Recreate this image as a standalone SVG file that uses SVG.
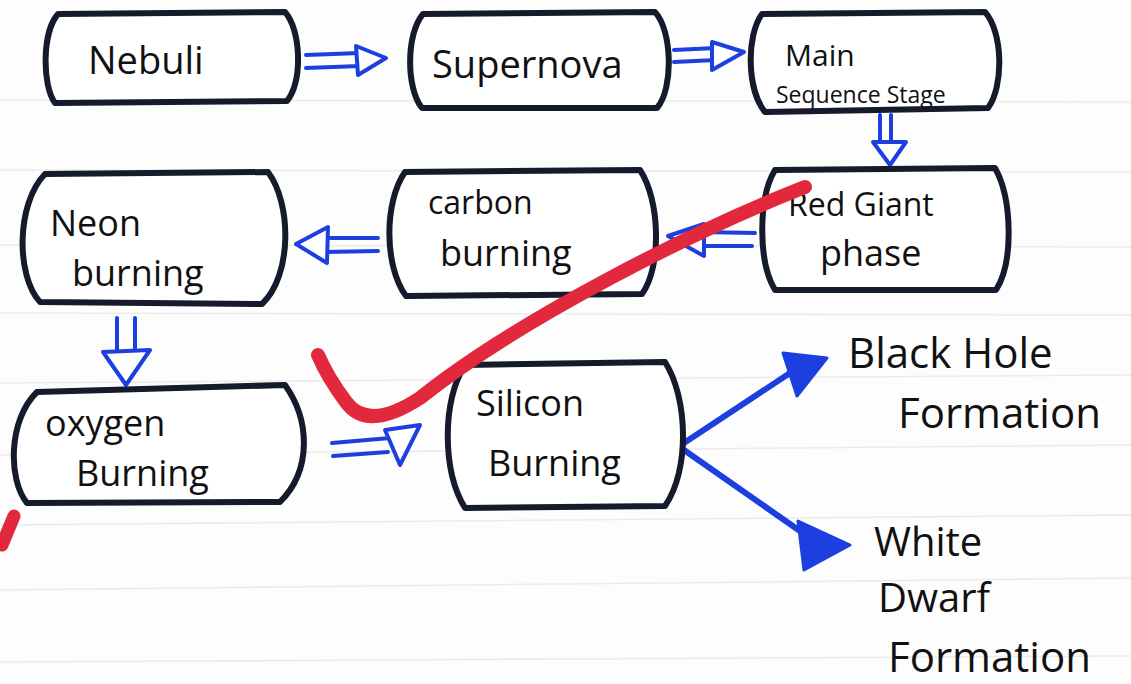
<svg xmlns="http://www.w3.org/2000/svg" width="1131" height="684" viewBox="0 0 1131 684">
<defs>
<style>
.box{fill:#fff;stroke:#151a2c;stroke-width:6;stroke-linejoin:round}
.t{font-family:"Open Sans","DejaVu Sans",sans-serif;fill:#111;font-size:36px}
.c{fill:none;stroke:#1e3fe0;stroke-width:4;stroke-linecap:round;stroke-linejoin:round}
.h{fill:#fff;stroke:#1e3fe0;stroke-width:4;stroke-linejoin:round}
.f{fill:#1e3fe0;stroke:#1e3fe0;stroke-width:3;stroke-linejoin:round}
.rule{stroke:#ebebeb;stroke-width:1.5}
</style>
</defs>
<rect width="1131" height="684" fill="#fdfdfd"/>
<g id="paper">
<line class="rule" x1="0" y1="100" x2="1131" y2="102"/>
<line class="rule" x1="0" y1="170" x2="1131" y2="172"/>
<line class="rule" x1="0" y1="245" x2="1131" y2="247"/>
<line class="rule" x1="0" y1="313" x2="1131" y2="315"/>
<line class="rule" x1="0" y1="383" x2="1131" y2="375"/>
<line class="rule" x1="0" y1="455" x2="1131" y2="445"/>
<line class="rule" x1="0" y1="525" x2="1131" y2="515"/>
<line class="rule" x1="0" y1="590" x2="1131" y2="578"/>
<line class="rule" x1="0" y1="662" x2="1131" y2="656"/>
</g>
<g id="connectors">
<path class="c" d="M306,55 L360,53 M306,68 L360,66"/>
<polygon class="h" points="356,46 386,58 358,75"/>
<path class="c" d="M674,50 L716,48 M674,62 L716,60"/>
<polygon class="h" points="712,42 744,52 712,70"/>
<path class="c" d="M880,115 L880,145 M891,115 L891,145"/>
<polygon class="h" points="873,142 906,142 890,165"/>
<path class="c" d="M755,233 L700,232 M752,246 L700,246"/>
<polygon class="h" points="704,224 668,236 704,256"/>
<path class="c" d="M378,238 L325,238 M378,251 L325,252"/>
<polygon class="h" points="328,227 296,244 327,263"/>
<path class="c" d="M117,318 L117,352 M135,318 L135,352"/>
<polygon class="h" points="103,352 150,350 126,385"/>
<path class="c" d="M332,443 L390,438 M333,456 L388,452"/>
<polygon class="h" points="385,430 420,425 400,465"/>
<path class="c" d="M684,443 L790,373" style="stroke-width:6"/>
<polygon class="f" points="783,353 827,358 797,396"/>
<path class="c" d="M684,450 L810,538" style="stroke-width:6"/>
<polygon class="f" points="798,521 850,545 804,570"/>
</g>
<g id="n-nebuli">
<path class="box" d="M58,14 L285,12 C301,30 303,80 287,101 L55,103 C42,85 42,32 58,14 Z"/>
<text class="t" x="88" y="74" style="font-size:38px">Nebuli</text>
</g>
<g id="n-supernova">
<path class="box" d="M423,14 L655,12 C672,30 674,88 657,108 L422,108 C406,88 406,34 423,14 Z"/>
<text class="t" x="432" y="78" style="font-size:38px">Supernova</text>
</g>
<g id="n-main">
<path class="box" d="M762,14 L985,12 C1003,32 1004,86 988,108 L765,112 C747,90 746,36 762,14 Z"/>
<text class="t" x="785" y="66" style="font-size:30px">Main</text>
<text class="t" x="776" y="103" style="font-size:23px">Sequence Stage</text>
</g>
<g id="n-redgiant">
<path class="box" d="M775,170 L995,168 C1012,198 1014,262 996,290 L775,290 C758,262 758,198 775,170 Z"/>
<text class="t" x="788" y="216" style="font-size:32px">Red Giant</text>
<text class="t" x="820" y="266">phase</text>
</g>
<g id="n-carbon">
<path class="box" d="M405,172 L640,170 C660,200 662,266 642,294 L406,296 C384,266 384,202 405,172 Z"/>
<text class="t" x="428" y="214" style="font-size:32px">carbon</text>
<text class="t" x="440" y="266">burning</text>
</g>
<g id="n-neon">
<path class="box" d="M45,174 L268,172 C292,204 292,276 262,304 L40,302 C16,276 16,204 45,174 Z"/>
<text class="t" x="50" y="236">Neon</text>
<text class="t" x="72" y="286">burning</text>
</g>
<g id="n-oxygen">
<path class="box" d="M37,392 L285,385 C310,420 312,470 280,502 L27,503 C8,480 8,420 37,392 Z"/>
<text class="t" x="45" y="436">oxygen</text>
<text class="t" x="76" y="486">Burning</text>
</g>
<g id="n-silicon">
<path class="box" d="M465,365 L665,362 C688,398 690,470 665,506 L465,508 C442,470 442,400 465,365 Z"/>
<text class="t" x="476" y="416">Silicon</text>
<text class="t" x="488" y="476">Burning</text>
</g>
<g id="n-blackhole">
<text class="t" x="848" y="368" style="font-size:42px">Black Hole</text>
<text class="t" x="898" y="428" style="font-size:42px">Formation</text>
</g>
<g id="n-whitedwarf">
<text class="t" x="874" y="556" style="font-size:40px">White</text>
<text class="t" x="878" y="612" style="font-size:40px">Dwarf</text>
<text class="t" x="888" y="672" style="font-size:42px">Formation</text>
</g>
<g id="marks">
<path d="M805,187 C700,228 520,318 420,398 Q368,432 346,402 Q328,378 318,355" fill="none" stroke="#e2283c" stroke-width="14" stroke-linecap="round"/>
<path d="M2,545 L14,516" fill="none" stroke="#e2283c" stroke-width="13" stroke-linecap="round"/>
</g>
</svg>
